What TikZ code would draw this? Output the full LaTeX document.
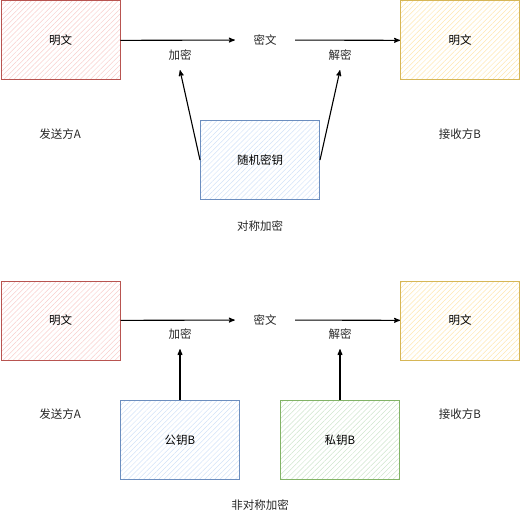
\documentclass[tikz,border=0pt]{standalone}
\usepackage{fontspec}
\newfontfamily\cjk{Noto Sans CJK SC}
\usetikzlibrary{arrows,positioning,patterns.meta}

\definecolor{redfill}{HTML}{F8CECC}
\definecolor{redline}{HTML}{B85450}
\definecolor{yellowfill}{HTML}{FFE7B0}
\definecolor{yellowline}{HTML}{D6B656}
\definecolor{bluefill}{HTML}{D2E2F8}
\definecolor{blueline}{HTML}{6C8EBF}
\definecolor{greenfill}{HTML}{CFE5CD}
\definecolor{greenline}{HTML}{82B366}

\tikzset{
  box/.style={draw,line width=1pt,minimum width=119pt,minimum height=79pt,
    font=\cjk\fontsize{11.5}{13}\selectfont},
  redbox/.style={box,draw=redline,
    pattern={Lines[angle=45,distance=3.6pt,line width=0.5pt]},pattern color=redfill},
  yellowbox/.style={box,draw=yellowline,
    pattern={Lines[angle=45,distance=3.6pt,line width=0.5pt]},pattern color=yellowfill},
  bluebox/.style={box,draw=blueline,
    pattern={Lines[angle=45,distance=3.6pt,line width=0.5pt]},pattern color=bluefill},
  greenbox/.style={box,draw=greenline,
    pattern={Lines[angle=45,distance=3.6pt,line width=0.5pt]},pattern color=greenfill},
  txt/.style={font=\cjk\fontsize{11.5}{13}\selectfont,text=black!85},
  cipher/.style={txt,minimum width=60pt,minimum height=16pt},
  op/.style={txt,minimum height=30pt},
  conn/.style={->,>=stealth',line width=1.1pt}
}

\begin{document}
\begin{tikzpicture}[x=1pt,y=-1pt,node distance=30pt]
  \useasboundingbox (0,0) rectangle (521,521);

  % symmetric
  \node[redbox] (plainA) at (60.5,40.5) {明文};
  \node[cipher] (cipherA) at (265,40) {密文};
  \node[yellowbox] (plainB) at (460,40.5) {明文};
  \node[op] (encA) at (180,55) {加密};
  \node[op] (decA) at (340,55) {解密};
  \node[bluebox] (randkey) at (260,160) {随机密钥};
  \node[txt] (sendA) at (60,134) {发送方A};
  \node[txt] (recvA) at (460,134) {接收方B};
  \node[txt] (symm) [below=17pt of randkey] {对称加密};

  \path (plainA) edge [conn] (cipherA)
        (cipherA) edge [conn] (plainB)
        (randkey.west) edge [conn] (encA.south)
        (randkey.east) edge [conn] (decA.south);

  % asymmetric
  \node[redbox] (plainC) at (60.5,320.5) {明文};
  \node[cipher] (cipherC) at (265,320) {密文};
  \node[yellowbox] (plainD) at (460,320.5) {明文};
  \node[op] (encC) at (180,334) {加密};
  \node[op] (decC) at (340,334) {解密};
  \node[bluebox] (pubkey) at (180,440) {公钥B};
  \node[greenbox] (privkey) at (340,440) {私钥B};
  \node[txt] (sendC) at (60,414) {发送方A};
  \node[txt] (recvC) at (460,414) {接收方B};
  \node[txt] (asym) at (260,505) {非对称加密};

  \path (plainC) edge [conn] (cipherC)
        (cipherC) edge [conn] (plainD)
        (pubkey) edge [conn] (encC)
        (privkey) edge [conn] (decC);
\end{tikzpicture}
\end{document}
